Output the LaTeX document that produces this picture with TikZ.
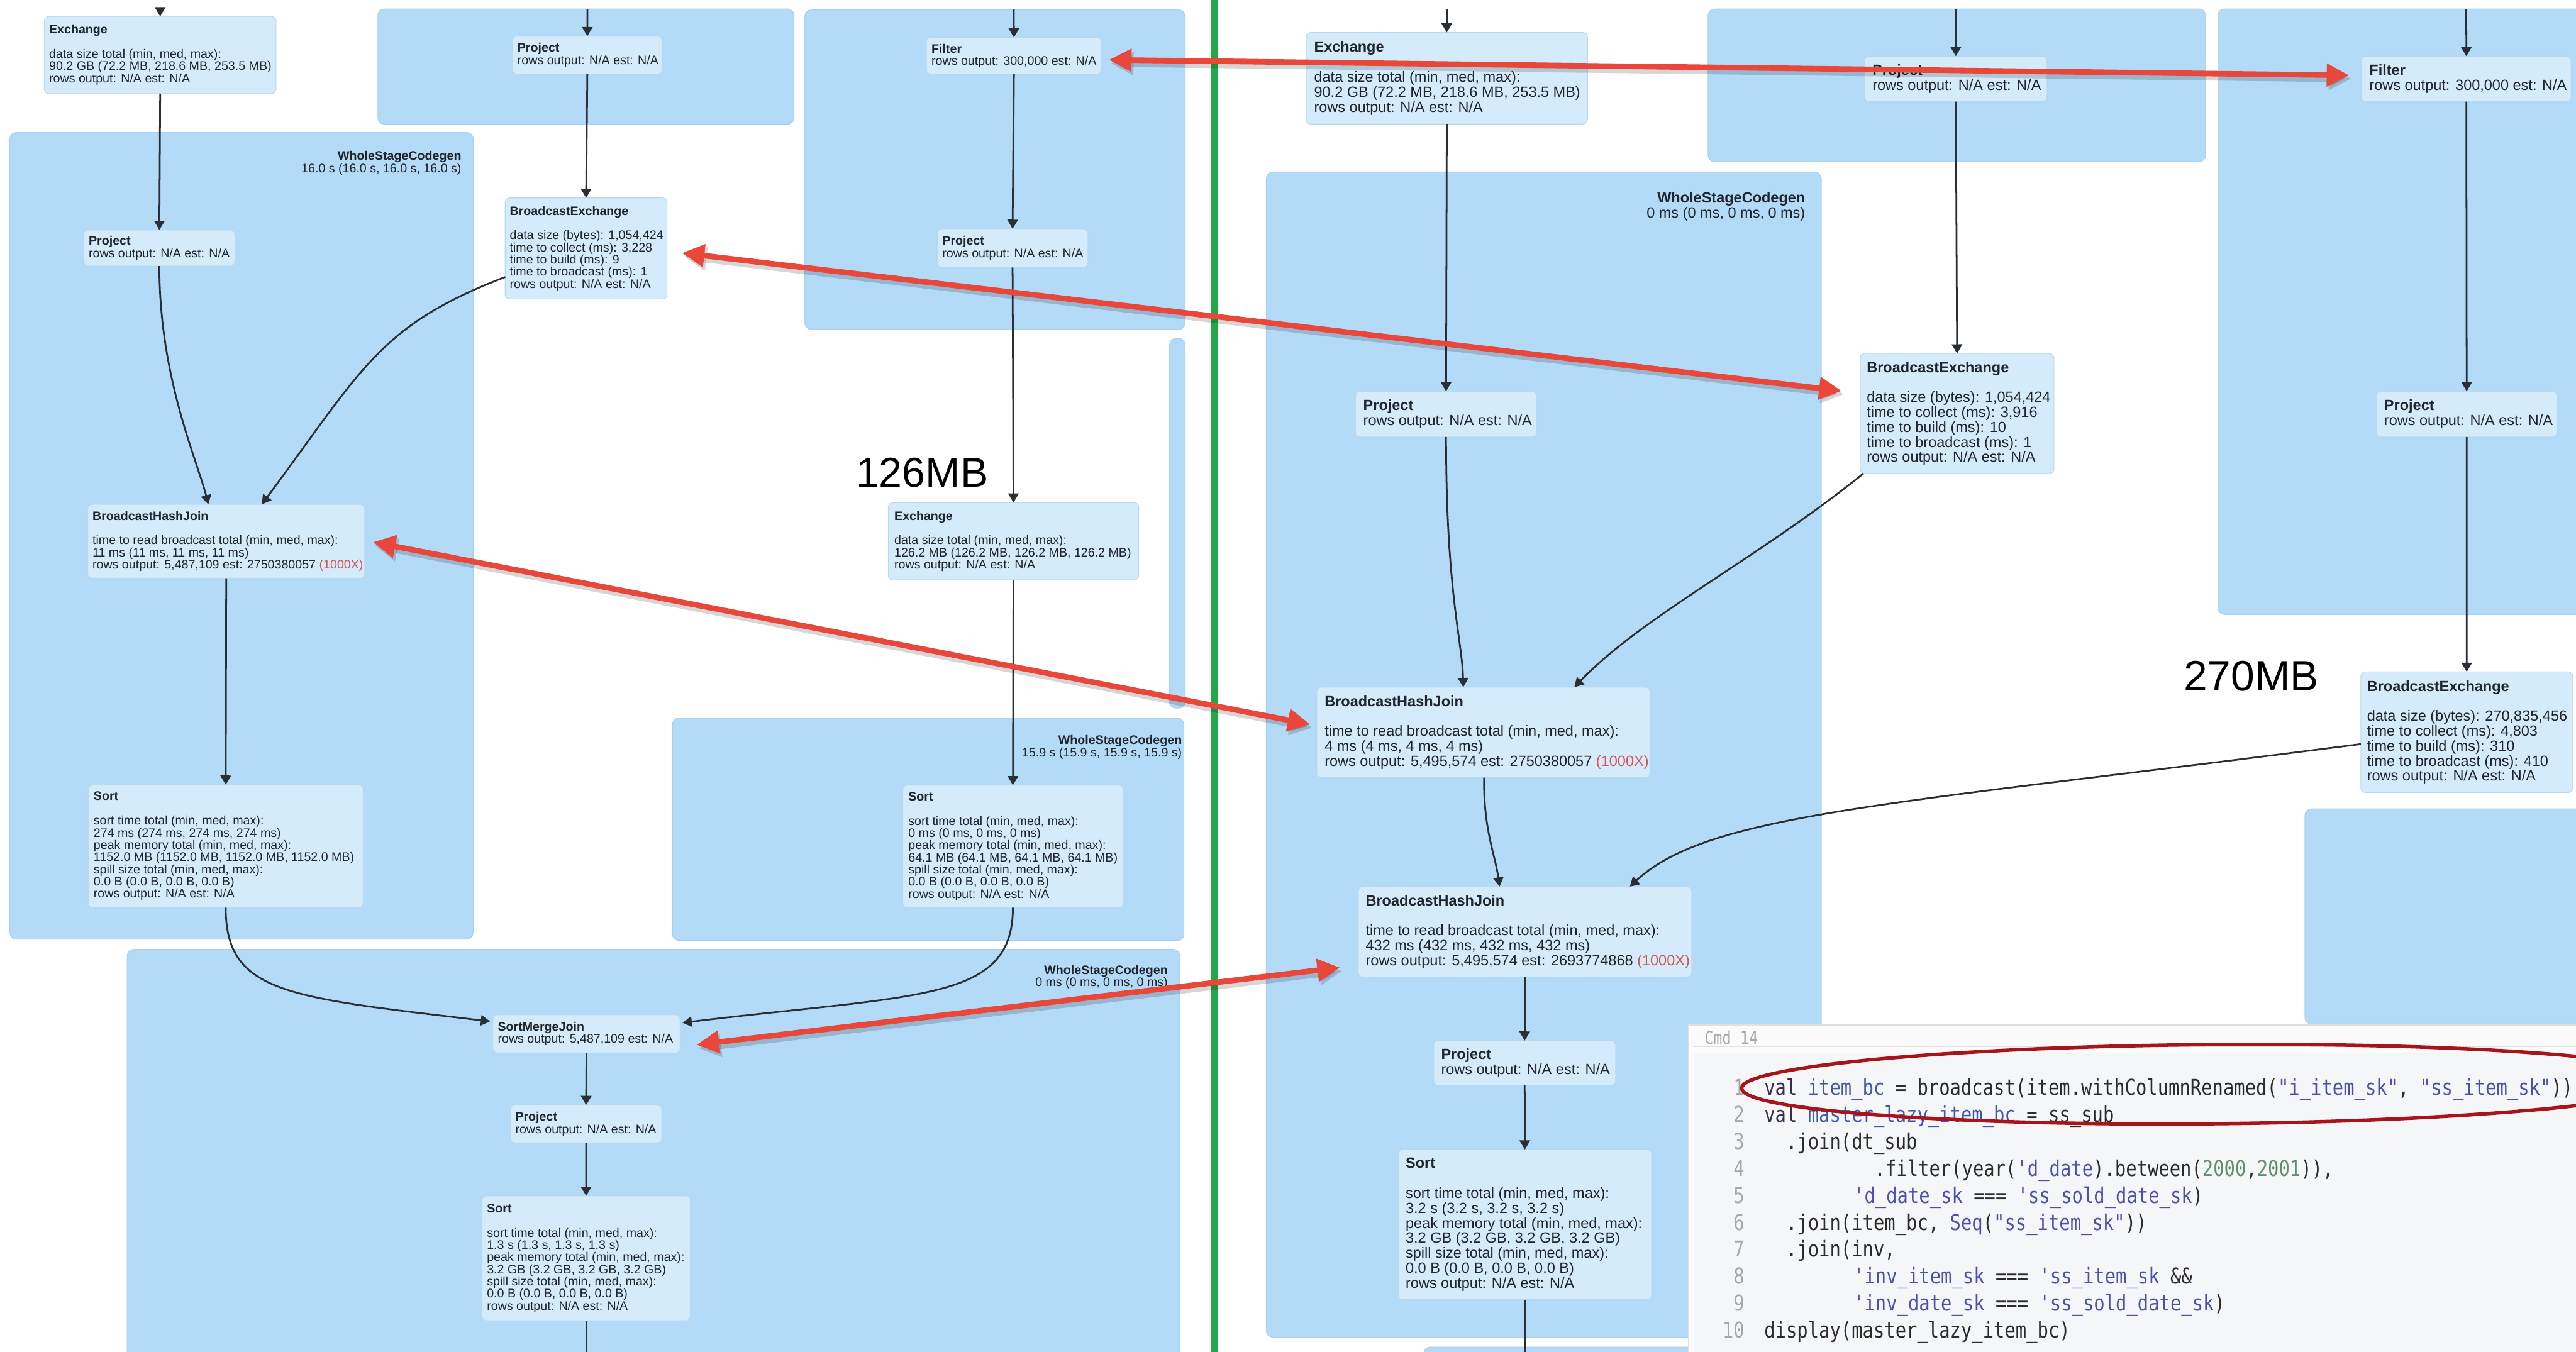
\documentclass[tikz,border=0pt]{standalone}
\usepackage{fontspec}
\setmainfont{Liberation Sans}
\newfontfamily\codefont[FakeStretch=0.835]{DejaVu Sans Mono}
\usetikzlibrary{arrows.meta,calc}

\definecolor{stagefill}{HTML}{B3DAF7}
\definecolor{stageedge}{HTML}{A8D1F0}
\definecolor{opfill}{HTML}{D3EBFB}
\definecolor{opedge}{HTML}{B9D8EE}
\definecolor{txt}{HTML}{1F252B}
\definecolor{flowcol}{HTML}{2A2F35}
\definecolor{hot}{HTML}{D9534F}
\definecolor{callout}{HTML}{E8473A}
\definecolor{divider}{HTML}{22A84A}
\definecolor{ring}{HTML}{A8141C}
\definecolor{panelbg}{HTML}{FBFBFB}
\definecolor{codebg}{HTML}{F5F6F8}
\definecolor{lnum}{HTML}{A6A6A6}
\definecolor{codetxt}{HTML}{2B2B2B}
\definecolor{kwcol}{HTML}{3A2C4F}
\definecolor{idcol}{HTML}{3F55AE}
\definecolor{strcol}{HTML}{4B4FAE}
\definecolor{numcol}{HTML}{5E8F6E}

\newcommand\ckw[1]{\textcolor{kwcol}{#1}}
\newcommand\cid[1]{\textcolor{idcol}{#1}}
\newcommand\cstr[1]{\textcolor{strcol}{#1}}
\newcommand\cnum[1]{\textcolor{numcol}{#1}}

\tikzset{
  stage/.style={fill=stagefill, draw=stageedge, line width=0.4pt, rounded corners=0.13cm, inner sep=0pt, outer sep=0pt},
  opbox/.style={fill=opfill, draw=opedge, line width=0.4pt, rounded corners=0.09cm, inner sep=0pt, outer sep=0pt},
  lt/.style={font=\fontsize{7.1}{7}\selectfont, text=txt, align=left, inner sep=0pt},
  rt/.style={font=\fontsize{8.5}{8.6}\selectfont, text=txt, align=left, inner sep=0pt},
  flow/.style={draw=flowcol, line width=1pt, -{Triangle[length=5.3pt,width=6pt]}},
  flowend/.style={draw=flowcol, line width=1pt},
  bigsize/.style={font=\fontsize{24}{26}\selectfont, text=black, inner sep=0pt},
  code/.style={font=\codefont\fontsize{12.5}{14}\selectfont, text=codetxt, inner sep=0pt},
  calloutarrow/.style={draw=callout, line width=3.2pt, {Triangle[length=13pt,width=12.5pt]}-{Triangle[length=13pt,width=12.5pt]}},
  calloutshadow/.style={draw=black, opacity=0.16, line width=4pt, {Triangle[length=13pt,width=12.5pt]}-{Triangle[length=13pt,width=12.5pt]}, transform canvas={shift={(0.04cm,-0.07cm)}}}
}

% cluster / operator boxes given by corners (x1,y1,x2,y2), y grows downward
\newcommand\stg[5]{%
  \pgfmathsetmacro\boxw{(#4-#2)*0.0332}%
  \pgfmathsetmacro\boxh{(#5-#3)*0.0332}%
  \node[stage, anchor=north west, minimum width=\boxw cm, minimum height=\boxh cm] (#1) at (#2,#3) {};}
\newcommand\opb[5]{%
  \pgfmathsetmacro\boxw{(#4-#2)*0.0332}%
  \pgfmathsetmacro\boxh{(#5-#3)*0.0332}%
  \node[opbox, anchor=north west, minimum width=\boxw cm, minimum height=\boxh cm] (#1) at (#2,#3) {};}
\newcommand\optxt[4]{\node[#2, anchor=west] (#1t) at ($(#1.west)+(#3,0)$) {#4};}

\begin{document}
\begin{tikzpicture}[x=0.0332cm, y=-0.0332cm]
\useasboundingbox (0,0) rectangle (1568,823);
\clip (0,0) rectangle (1568,823);
\fill[white] (0,0) rectangle (1568,823);

% ---------- WholeStageCodegen clusters ----------
\stg{stA}{230}{5.4}{483.3}{75.6}
\stg{stB}{6}{80.6}{288}{571.7}
\stg{stC}{489.9}{6}{721.4}{200.5}
\stg{stD}{711.9}{206}{721.4}{431.1}
\stg{stE}{409.3}{437.2}{720.7}{572.5}
\stg{stF}{77.4}{577.9}{718.1}{840}
\stg{stG}{1039.7}{5.4}{1342.5}{98.4}
\stg{stH}{770.8}{104.7}{1108.6}{814}
\stg{stI}{1350}{5.4}{1590}{374.1}
\stg{stJ}{1403}{492.4}{1590}{623.4}
\stg{stK}{866.7}{820}{1040}{840}

\node[lt, align=right, anchor=east] (wscB) at (281,99.3) {\textbf{WholeStageCodegen}\\16.0 s (16.0 s, 16.0 s, 16.0 s)};
\node[lt, align=right, anchor=east] (wscE) at (719.6,455) {\textbf{WholeStageCodegen}\\15.9 s (15.9 s, 15.9 s, 15.9 s)};
\node[lt, align=right, anchor=east] (wscF) at (711,594.8) {\textbf{WholeStageCodegen}\\0 ms (0 ms, 0 ms, 0 ms)};
\node[rt, align=right, anchor=east] (wscH) at (1099,125.6) {\textbf{WholeStageCodegen}\\0 ms (0 ms, 0 ms, 0 ms)};

% ---------- operator boxes ----------
\opb{ex1}{27}{10}{168}{57}
\opb{prjA}{312}{22}{403}{45}
\opb{prjL}{51}{140}{143}{162}
\opb{beL}{307.5}{120.5}{406}{182}
\opb{bhjL}{53.4}{307}{222}{352}
\opb{sortL}{53.8}{477.7}{221}{552.5}
\opb{filM}{563.9}{22.8}{670.4}{45.1}
\opb{prjM}{570.5}{139.3}{662.2}{162.8}
\opb{exM}{540.7}{306}{693.1}{353}
\opb{sortM}{549.5}{478}{683.6}{552.5}
\opb{smj}{300}{617.8}{414}{641}
\opb{prjB}{310.7}{672.7}{402.8}{695.7}
\opb{sortB}{293.4}{728}{420.2}{804}
\opb{exR}{795}{19.8}{966.3}{75.5}
\opb{prjG}{1135}{34.2}{1246}{61.9}
\opb{filR}{1437.5}{34.2}{1565}{61.9}
\opb{prjH}{825.1}{238.2}{935.3}{266}
\opb{beR}{1132.3}{215.2}{1250.2}{288.2}
\opb{prjI}{1446.5}{238.2}{1556.4}{266}
\opb{bhjR1}{801.5}{418.3}{1004.3}{473.4}
\opb{be270}{1437}{409}{1566}{482.5}
\opb{bhjR2}{826.8}{539.7}{1029.7}{594.8}
\opb{prjR2}{872.7}{633.5}{983.4}{660.7}
\opb{sortR}{851.1}{699.8}{1005.3}{791.1}

% ---------- data-flow edges ----------
\coordinate (ex1in) at (97.5,5.4);
\coordinate (prjAin) at (357.5,5.4);
\coordinate (filMin) at (617.1,5.4);
\coordinate (exRin) at (880.6,5.4);
\coordinate (prjGin) at (1190.5,5.4);
\coordinate (filRin) at (1501.2,5.4);

\draw[flow] (ex1in) -- (ex1.north);
\draw[flow] (ex1.south) -- (prjL.north);
\draw[flow] (prjAin) -- (prjA.north);
\draw[flow] (prjA.south) -- (beL.north);
\draw[flow] (prjL.south) .. controls (97,230) and (120,280) .. ($(bhjL.north west)+(73.4,0)$);
\draw[flow] ($(beL.west)+(0,17.4)$) .. controls (231,198) and (221,224) .. ($(bhjL.north west)+(106,0)$);
\draw[flow] (bhjL.south) -- (sortL.north);
\draw[flow] (filMin) -- (filM.north);
\draw[flow] (filM.south) -- (prjM.north);
\draw[flow] (prjM.south) -- (exM.north);
\draw[flow] (exM.south) -- (sortM.north);
\draw[flow] (sortL.south) .. controls (137.4,605) and (175,607) .. ($(smj.north west)+(-1.7,4)$);
\draw[flow] (sortM.south) .. controls (616.5,610) and (560,605) .. ($(smj.north east)+(1.5,4.8)$);
\draw[flow] (smj.south) -- (prjB.north);
\draw[flow] (prjB.south) -- (sortB.north);
\draw[flowend] (sortB.south) -- ++(0,30);

\draw[flow] (exRin) -- (exR.north);
\draw[flow] (exR.south) -- (prjH.north);
\draw[flow] (prjGin) -- (prjG.north);
\draw[flow] (prjG.south) -- (beR.north);
\draw[flow] (filRin) -- (filR.north);
\draw[flow] (filR.south) -- (prjI.north);
\draw[flow] (prjI.south) -- (be270.north);
\draw[flow] (prjH.south) .. controls (880.2,360) and (890,390) .. ($(bhjR1.north west)+(89.2,0)$);
\draw[flow] ($(beR.south west)+(2,0)$) .. controls (1070,340) and (1000,375) .. ($(bhjR1.north west)+(156.8,0)$);
\draw[flow] ($(bhjR1.south west)+(101.8,0)$) .. controls (903,505) and (910,520) .. ($(bhjR2.north west)+(86,0)$);
\draw[flow] ($(be270.west)+(0,7.2)$) .. controls (1150,490) and (1040,495) .. ($(bhjR2.north west)+(165.3,0)$);
\draw[flow] (bhjR2.south) -- (prjR2.north);
\draw[flow] (prjR2.south) -- (sortR.north);
\draw[flowend] (sortR.south) -- ++(0,40);

% ---------- operator texts ----------
\optxt{ex1}{lt}{2.7}{\textbf{Exchange}\\[7pt]data size total (min, med, max):\\90.2 GB (72.2 MB, 218.6 MB, 253.5 MB)\\rows output: N/A est: N/A}
\optxt{prjA}{lt}{2.8}{\textbf{Project}\\rows output: N/A est: N/A}
\optxt{prjL}{lt}{2.8}{\textbf{Project}\\rows output: N/A est: N/A}
\optxt{beL}{lt}{2.6}{\textbf{BroadcastExchange}\\[7pt]data size (bytes): 1,054,424\\time to collect (ms): 3,228\\time to build (ms): 9\\time to broadcast (ms): 1\\rows output: N/A est: N/A}
\optxt{bhjL}{lt}{2.7}{\textbf{BroadcastHashJoin}\\[7pt]time to read broadcast total (min, med, max):\\11 ms (11 ms, 11 ms, 11 ms)\\rows output: 5,487,109 est: 2750380057 {\color{hot}(1000X)}}
\optxt{sortL}{lt}{3}{\textbf{Sort}\\[7pt]sort time total (min, med, max):\\274 ms (274 ms, 274 ms, 274 ms)\\peak memory total (min, med, max):\\1152.0 MB (1152.0 MB, 1152.0 MB, 1152.0 MB)\\spill size total (min, med, max):\\0.0 B (0.0 B, 0.0 B, 0.0 B)\\rows output: N/A est: N/A}
\optxt{filM}{lt}{2.9}{\textbf{Filter}\\rows output: 300,000 est: N/A}
\optxt{prjM}{lt}{2.9}{\textbf{Project}\\rows output: N/A est: N/A}
\optxt{exM}{lt}{3.5}{\textbf{Exchange}\\[7pt]data size total (min, med, max):\\126.2 MB (126.2 MB, 126.2 MB, 126.2 MB)\\rows output: N/A est: N/A}
\optxt{sortM}{lt}{3.2}{\textbf{Sort}\\[7pt]sort time total (min, med, max):\\0 ms (0 ms, 0 ms, 0 ms)\\peak memory total (min, med, max):\\64.1 MB (64.1 MB, 64.1 MB, 64.1 MB)\\spill size total (min, med, max):\\0.0 B (0.0 B, 0.0 B, 0.0 B)\\rows output: N/A est: N/A}
\optxt{smj}{lt}{2.8}{\textbf{SortMergeJoin}\\rows output: 5,487,109 est: N/A}
\optxt{prjB}{lt}{2.8}{\textbf{Project}\\rows output: N/A est: N/A}
\optxt{sortB}{lt}{2.8}{\textbf{Sort}\\[7pt]sort time total (min, med, max):\\1.3 s (1.3 s, 1.3 s, 1.3 s)\\peak memory total (min, med, max):\\3.2 GB (3.2 GB, 3.2 GB, 3.2 GB)\\spill size total (min, med, max):\\0.0 B (0.0 B, 0.0 B, 0.0 B)\\rows output: N/A est: N/A}

\optxt{exR}{rt}{4.7}{\textbf{Exchange}\\[8.6pt]data size total (min, med, max):\\90.2 GB (72.2 MB, 218.6 MB, 253.5 MB)\\rows output: N/A est: N/A}
\optxt{prjG}{rt}{4.5}{\textbf{Project}\\rows output: N/A est: N/A}
\optxt{filR}{rt}{4.5}{\textbf{Filter}\\rows output: 300,000 est: N/A}
\optxt{prjH}{rt}{4.5}{\textbf{Project}\\rows output: N/A est: N/A}
\optxt{beR}{rt}{3.8}{\textbf{BroadcastExchange}\\[8.6pt]data size (bytes): 1,054,424\\time to collect (ms): 3,916\\time to build (ms): 10\\time to broadcast (ms): 1\\rows output: N/A est: N/A}
\optxt{prjI}{rt}{4.5}{\textbf{Project}\\rows output: N/A est: N/A}
\optxt{bhjR1}{rt}{4.6}{\textbf{BroadcastHashJoin}\\[8.6pt]time to read broadcast total (min, med, max):\\4 ms (4 ms, 4 ms, 4 ms)\\rows output: 5,495,574 est: 2750380057 {\color{hot}(1000X)}}
\optxt{be270}{rt}{3.6}{\textbf{BroadcastExchange}\\[8.6pt]data size (bytes): 270,835,456\\time to collect (ms): 4,803\\time to build (ms): 310\\time to broadcast (ms): 410\\rows output: N/A est: N/A}
\optxt{bhjR2}{rt}{4.3}{\textbf{BroadcastHashJoin}\\[8.6pt]time to read broadcast total (min, med, max):\\432 ms (432 ms, 432 ms, 432 ms)\\rows output: 5,495,574 est: 2693774868 {\color{hot}(1000X)}}
\optxt{prjR2}{rt}{4.3}{\textbf{Project}\\rows output: N/A est: N/A}
\optxt{sortR}{rt}{4.3}{\textbf{Sort}\\[8.6pt]sort time total (min, med, max):\\3.2 s (3.2 s, 3.2 s, 3.2 s)\\peak memory total (min, med, max):\\3.2 GB (3.2 GB, 3.2 GB, 3.2 GB)\\spill size total (min, med, max):\\0.0 B (0.0 B, 0.0 B, 0.0 B)\\rows output: N/A est: N/A}

% ---------- size annotations ----------
\node[bigsize, anchor=base west] (lbl126) at (520.8,296.5) {126MB};
\node[bigsize, font=\fontsize{24.5}{26}\selectfont, anchor=base west] (lbl270) at (1329,420.6) {270MB};

% ---------- divider between the two plans ----------
\draw[divider, line width=3.8pt] (739,0) -- (739,823);

% ---------- notebook cell ----------
\fill[panelbg] (1027.6,624) rectangle (1590,840);
\draw[black!12, line width=0.5pt] (1027.6,840) -- (1027.6,624) -- (1590,624);
\fill[codebg] (1031,641) rectangle (1590,840);
\draw[black!12, line width=0.5pt] (1031,637.2) -- (1590,637.2);
\node[code, font=\codefont\fontsize{10.2}{12}\selectfont, text=lnum, anchor=west] (cmd) at (1037.3,631.5) {Cmd 14};

\node[code, text=lnum, anchor=base east] (ln1) at (1062,666.8) {1};
\node[code, text=lnum, anchor=base east] (ln2) at (1062,683.2) {2};
\node[code, text=lnum, anchor=base east] (ln3) at (1062,699.6) {3};
\node[code, text=lnum, anchor=base east] (ln4) at (1062,716.0) {4};
\node[code, text=lnum, anchor=base east] (ln5) at (1062,732.4) {5};
\node[code, text=lnum, anchor=base east] (ln6) at (1062,748.8) {6};
\node[code, text=lnum, anchor=base east] (ln7) at (1062,765.2) {7};
\node[code, text=lnum, anchor=base east] (ln8) at (1062,781.6) {8};
\node[code, text=lnum, anchor=base east] (ln9) at (1062,798.0) {9};
\node[code, text=lnum, anchor=base east] (ln10) at (1062,814.4) {10};

\node[code, anchor=base west] (cl1) at (1073.7,666.8) {\ckw{val} \cid{item\_bc} = broadcast(item.withColumnRenamed(\cstr{"i\_item\_sk"}, \cstr{"ss\_item\_sk"}))};
\node[code, anchor=base west] (cl2) at (1073.7,683.2) {\ckw{val} \cid{master\_lazy\_item\_bc} = ss\_sub};
\node[code, anchor=base west] (cl3) at (1087.0,699.6) {.join(dt\_sub};
\node[code, anchor=base west] (cl4) at (1140.8,716.0) {.filter(year(\cstr{'d\_date}).between(\cnum{2000},\cnum{2001})),};
\node[code, anchor=base west] (cl5) at (1128.0,732.4) {\cstr{'d\_date\_sk} === \cstr{'ss\_sold\_date\_sk})};
\node[code, anchor=base west] (cl6) at (1087.0,748.8) {.join(item\_bc, \cstr{Seq}(\cstr{"ss\_item\_sk"}))};
\node[code, anchor=base west] (cl7) at (1087.0,765.2) {.join(inv,};
\node[code, anchor=base west] (cl8) at (1128.0,781.6) {\cstr{'inv\_item\_sk} === \cstr{'ss\_item\_sk} \&\&};
\node[code, anchor=base west] (cl9) at (1128.0,798.0) {\cstr{'inv\_date\_sk} === \cstr{'ss\_sold\_date\_sk})};
\node[code, anchor=base west] (cl10) at (1073.7,814.4) {display(master\_lazy\_item\_bc)};

% hand-drawn ring around the broadcast line
\draw[ring, line width=2pt, rotate around={0.5:(1345,660)}] (1345,660) ellipse [x radius=9.46cm, y radius=0.8cm];

% ---------- callout arrows pairing the operators of both plans ----------
\coordinate (r1a) at ($(filM.east)+(4.6,2.5)$);
\coordinate (r1b) at ($(filR.west)+(-7.5,-2.2)$);
\coordinate (r2a) at ($(beL.east)+(9,2.75)$);
\coordinate (r2b) at ($(beR.west)+(-11.3,-13.7)$);
\coordinate (r3a) at ($(bhjL.east)+(5,0.5)$);
\coordinate (r3b) at ($(bhjR1.west)+(-3.9,-4.85)$);
\coordinate (r4a) at ($(smj.east)+(10,6.6)$);
\coordinate (r4b) at ($(bhjR2.west)+(-11.2,21.75)$);

\draw[calloutshadow] (r1a) -- (r1b);
\draw[calloutshadow] (r2a) -- (r2b);
\draw[calloutshadow] (r3a) -- (r3b);
\draw[calloutshadow] (r4a) -- (r4b);
\draw[calloutarrow] (r1a) -- (r1b);
\draw[calloutarrow] (r2a) -- (r2b);
\draw[calloutarrow] (r3a) -- (r3b);
\draw[calloutarrow] (r4a) -- (r4b);
\end{tikzpicture}
\end{document}
